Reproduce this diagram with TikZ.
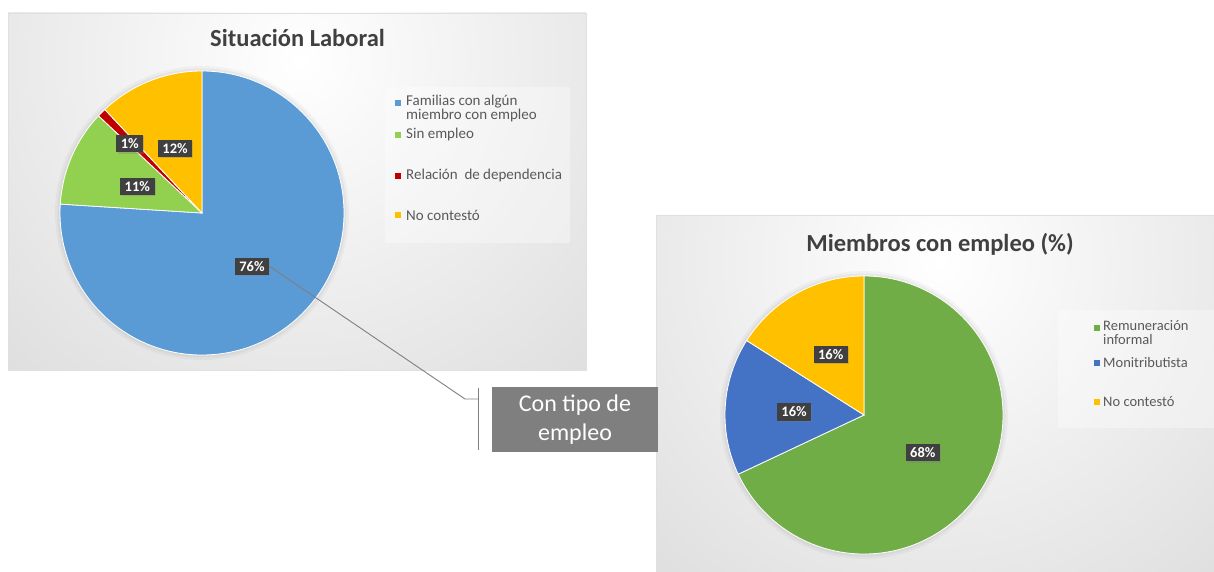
\documentclass[tikz,border=0pt]{standalone}
\usepackage{fontspec}
\setmainfont{Carlito}
\usetikzlibrary{positioning, calc, shadows}

\definecolor{azulA}{HTML}{5B9BD5}
\definecolor{verdeA}{HTML}{92D050}
\definecolor{rojoA}{HTML}{C00000}
\definecolor{amarillo}{HTML}{FFC000}
\definecolor{verdeB}{HTML}{70AD47}
\definecolor{azulB}{HTML}{4472C4}
\definecolor{fondo}{HTML}{C4C4C4}
\definecolor{etiqueta}{HTML}{404040}
\definecolor{textoLey}{HTML}{595959}
\definecolor{caja}{HTML}{7F7F7F}

\begin{document}
\begin{tikzpicture}[x=1pt, y=1pt,
    titulo/.style={font=\bfseries\fontsize{24.5}{28}\selectfont, text=black!75, anchor=base},
    pct/.style={fill=etiqueta, text=white, font=\bfseries\fontsize{14.5}{14.5}\selectfont,
        inner xsep=4.5pt, inner ysep=3.5pt,
        drop shadow={opacity=0.35, shadow xshift=1.2pt, shadow yshift=-1.2pt}},
    leyenda/.style={font=\fontsize{15}{13.5}\selectfont, text=textoLey, align=left, inner sep=0pt},
    cuadro/.style={minimum size=5.5pt, inner sep=0pt},
    rebanada/.style={draw=white, line width=0.8pt},
    linea/.style={draw=caja, line width=0.9pt}]
\useasboundingbox (0,0) rectangle (1214,-572);

\fill[fondo] (8,-13) rectangle (586,-370);
\begin{scope}
    \clip (8,-13) rectangle (586,-370);
    \shade[inner color=white, outer color=fondo] (300,-60) circle (780);
\end{scope}
\draw[black!12] (8,-13) rectangle (586,-370);

\fill[fondo] (656,-215) rectangle (1214,-572);
\begin{scope}
    \clip (656,-215) rectangle (1214,-572);
    \shade[inner color=white, outer color=fondo] (940,-262) circle (780);
\end{scope}
\draw[black!12] (656,-572) -- (656,-215) -- (1214,-215);

\node[titulo] (tituloA) at (297.5,-47) {Situación Laboral};
\node[titulo] (tituloB) at (940,-251) {Miembros con empleo (\%)};

\coordinate (pieA) at (202,-213);
\fill[black, opacity=0.03] (pieA) circle (147);
\fill[black, opacity=0.04] (pieA) circle (144.5);
\path[rebanada, fill=azulA] (pieA) -- ++(90:142) arc[start angle=90, end angle=-183.6, radius=142] -- cycle;
\path[rebanada, fill=verdeA] (pieA) -- ++(176.4:142) arc[start angle=176.4, end angle=136.8, radius=142] -- cycle;
\path[rebanada, fill=rojoA] (pieA) -- ++(136.8:142) arc[start angle=136.8, end angle=133.2, radius=142] -- cycle;
\path[rebanada, fill=amarillo] (pieA) -- ++(133.2:142) arc[start angle=133.2, end angle=90, radius=142] -- cycle;

\node[pct] (lbl76) at ($(pieA)+(-46.8:73)$) {76\%};
\node[pct] (lbl11) at ($(pieA)+(157.4:70)$) {11\%};
\node[pct] (lbl1) at ($(pieA)+(136.2:100)$) {1\%};
\node[pct] (lbl12) at ($(pieA)+(112.6:70)$) {12\%};

\fill[white, opacity=0.35] (385,-87) rectangle (570,-243);
\node[cuadro, fill=azulA] (sqA1) at (398,-103) {};
\node[leyenda, anchor=north west] (leyA1) at (406,-95) {Familias con algún\\miembro con empleo};
\node[cuadro, fill=verdeA] (sqA2) at (398,-135) {};
\node[leyenda, anchor=west] (leyA2) at (406,-135) {Sin empleo};
\node[cuadro, fill=rojoA] (sqA3) at (398,-176) {};
\node[leyenda, anchor=west] (leyA3) at (406,-176) {Relación\ \ de dependencia};
\node[cuadro, fill=amarillo] (sqA4) at (398,-215) {};
\node[leyenda, anchor=west] (leyA4) at (406,-215) {No contestó};

\coordinate (pieB) at (864,-415);
\fill[black, opacity=0.03] (pieB) circle (144);
\fill[black, opacity=0.04] (pieB) circle (141.5);
\path[rebanada, fill=verdeB] (pieB) -- ++(90:139) arc[start angle=90, end angle=-154.8, radius=139] -- cycle;
\path[rebanada, fill=azulB] (pieB) -- ++(205.2:139) arc[start angle=205.2, end angle=147.6, radius=139] -- cycle;
\path[rebanada, fill=amarillo] (pieB) -- ++(147.6:139) arc[start angle=147.6, end angle=90, radius=139] -- cycle;

\node[pct] (lbl16a) at ($(pieB)+(118.8:69)$) {16\%};
\node[pct] (lbl16b) at ($(pieB)+(177.5:70)$) {16\%};
\node[pct] (lbl68) at ($(pieB)+(-32.8:70)$) {68\%};

\fill[white, opacity=0.35] (1058,-310) rectangle (1214,-428);
\node[cuadro, fill=verdeB] (sqB1) at (1097,-328) {};
\node[leyenda, font=\fontsize{14.5}{13.5}\selectfont, anchor=north west] (leyB1) at (1103,-320.5) {Remuneración\\informal};
\node[cuadro, fill=azulB] (sqB2) at (1097,-363) {};
\node[leyenda, font=\fontsize{14.5}{13.5}\selectfont, anchor=west] (leyB2) at (1103,-363) {Monitributista};
\node[cuadro, fill=amarillo] (sqB3) at (1097,-402) {};
\node[leyenda, font=\fontsize{14.5}{13.5}\selectfont, anchor=west] (leyB3) at (1103,-402) {No contestó};

\node[fill=caja, text=white, font=\fontsize{24}{29.5}\selectfont, align=center,
    minimum width=166pt, minimum height=65pt, inner sep=0pt] (cajaTipo) at (575,-419.5) {Con tipo de\\empleo};
\coordinate (codo) at (465,-399);
\coordinate (barraMed) at (478,-399);
\coordinate (barraArr) at (478,-388);
\coordinate (barraAba) at (478,-450);
\draw[linea] (lbl76.east) -- (codo) -- (barraMed);
\draw[linea] (barraArr) -- (barraAba);
\end{tikzpicture}
\end{document}
